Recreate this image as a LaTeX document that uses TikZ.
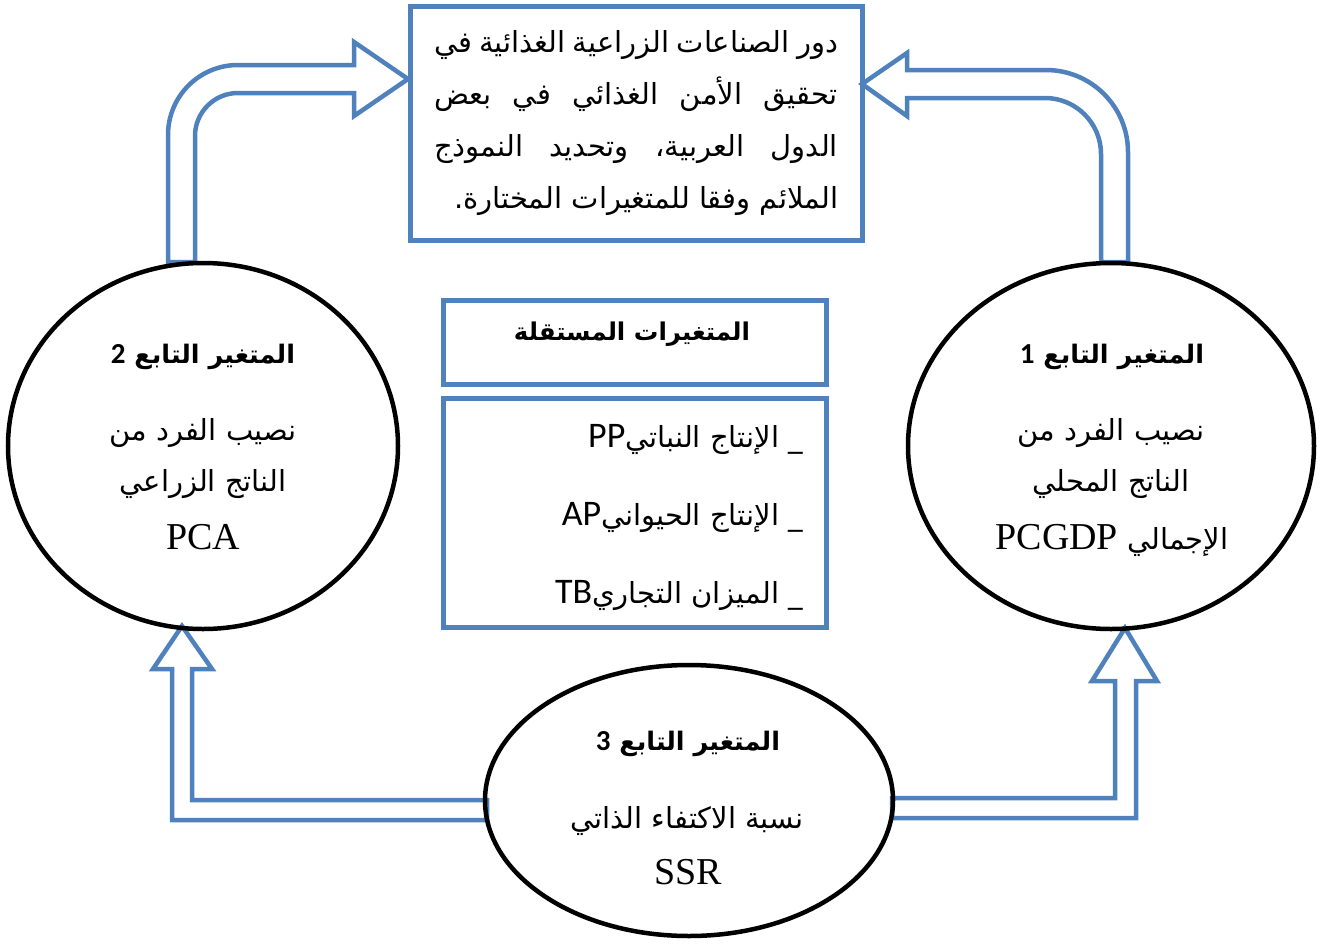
\documentclass[tikz,border=0pt]{standalone}
\usepackage{fontspec}
\usetikzlibrary{shapes.geometric}
\TeXXeTstate=1
\newfontfamily\arabicfont[Script=Arabic]{DejaVu Sans}
\newfontfamily\latserif{Liberation Serif}
\newfontfamily\latsans{Carlito}
\definecolor{ablue}{RGB}{79,129,189}
\newcommand{\RL}[1]{\beginR#1\endR}
\newcommand{\lserif}[1]{{\latserif\fontsize{38}{40}\selectfont #1}}
\newcommand{\lsans}[1]{{\latsans\fontsize{36}{40}\selectfont #1}}
\newcommand{\dg}[1]{{\latsans\bfseries\fontsize{29}{30}\selectfont #1}}
\newcommand{\jline}[1]{\hbox to 404pt{\beginR#1\endR}}
\newcommand{\rline}[1]{\hbox to 404pt{\hfill\beginR#1\endR}}
\tikzset{
  bluebox/.style={draw=ablue, line width=5pt, fill=white, inner sep=0pt, rectangle},
  circ/.style={ellipse, draw=black, line width=4.5pt, inner sep=0pt},
  barrow/.style={draw=ablue, line width=4.5pt, fill=white, line join=miter},
  artext/.style={font=\arabicfont\fontsize{29}{30}\selectfont, inner sep=0pt, anchor=base},
  arbold/.style={font=\arabicfont\bfseries\fontsize{25.5}{30}\selectfont, inner sep=0pt, anchor=base},
}
\begin{document}
\begin{tikzpicture}[x=1pt,y=-1pt]
\useasboundingbox (0,0) rectangle (1326,943);

% boxes
\node[bluebox, minimum width=452pt, minimum height=234pt] (goal) at (636,123) {};
\node[bluebox, minimum width=383pt, minimum height=84pt] (indep) at (634.5,342) {};
\node[bluebox, minimum width=383pt, minimum height=229pt] (list) at (634.5,512.5) {};

% block arrows
\draw[barrow] (168,262) -- (168,135) .. controls (168,96.3) and (199.3,65) .. (238,65)
  -- (354,65) -- (354,42) -- (408,79) -- (354,116) -- (354,93) -- (238,93)
  .. controls (214.3,93) and (195,112.3) .. (195,136) -- (195,262) -- cycle;
\draw[barrow] (1128,262) -- (1128,152) .. controls (1128,106.7) and (1091.3,70) .. (1046,70)
  -- (907,70) -- (907,53) -- (862,84) -- (907,116) -- (907,98) -- (1045,98)
  .. controls (1075.9,98) and (1101,123.1) .. (1101,154) -- (1101,262) -- cycle;
\draw[barrow] (487,800) -- (192,800) -- (192,669) -- (212,669) -- (182,626) -- (153,669)
  -- (172,669) -- (172,820) -- (487,820) -- cycle;
\draw[barrow] (892,798) -- (1115,798) -- (1115,681) -- (1092,681) -- (1125,628) -- (1157,681)
  -- (1136,681) -- (1136,818) -- (892,818) -- cycle;

% ellipses
\node[circ, minimum width=390pt, minimum height=366pt] (dep2) at (203,446) {};
\node[circ, minimum width=406pt, minimum height=366pt] (dep1) at (1111,446) {};
\node[circ, minimum width=408pt, minimum height=271pt] (dep3) at (689,800.5) {};

% goal text
\node[inner sep=0pt, anchor=north] (goaltxt) at (636,30) {\arabicfont\fontsize{29}{52}\selectfont
  \vbox{\baselineskip=52pt
  \jline{دور الصناعات الزراعية الغذائية في}
  \jline{تحقيق الأمن الغذائي في بعض}
  \jline{الدول العربية\kern0pt، وتحديد النموذج}
  \rline{الملائم وفقا للمتغيرات المختارة\kern0pt.}}};

% independent variables
\node[arbold, font=\arabicfont\bfseries\fontsize{24.5}{30}\selectfont] (indeptxt) at (632,340) {\RL{المتغيرات المستقلة}};
\node[artext, anchor=base east] (pp) at (803,447) {\RL{\_ الإنتاج النباتي\lsans{PP}}};
\node[artext, anchor=base east] (ap) at (803,525) {\RL{\_ الإنتاج الحيواني\lsans{AP}}};
\node[artext, anchor=base east] (tb) at (803,603) {\RL{\_ الميزان التجاري\lsans{TB}}};

% dependent 2
\node[arbold] (d2h) at (203,363) {\RL{المتغير التابع \dg{2}}};
\node[artext] (d2a) at (203,440) {\RL{نصيب الفرد من}};
\node[artext] (d2b) at (203,491) {\RL{الناتج الزراعي}};
\node[artext] (d2c) at (203,549) {\lserif{PCA}};

% dependent 1
\node[arbold] (d1h) at (1112,363) {\RL{المتغير التابع \dg{1}}};
\node[artext] (d1a) at (1111,440) {\RL{نصيب الفرد من}};
\node[artext] (d1b) at (1111,491) {\RL{الناتج المحلي}};
\node[artext] (d1c) at (1112,549) {\RL{الإجمالي \lserif{PCGDP}}};

% dependent 3
\node[arbold] (d3h) at (688,750) {\RL{المتغير التابع \dg{3}}};
\node[artext] (d3a) at (687,828) {\RL{نسبة الاكتفاء الذاتي}};
\node[artext] (d3b) at (688,884) {\lserif{SSR}};
\end{tikzpicture}
\end{document}
